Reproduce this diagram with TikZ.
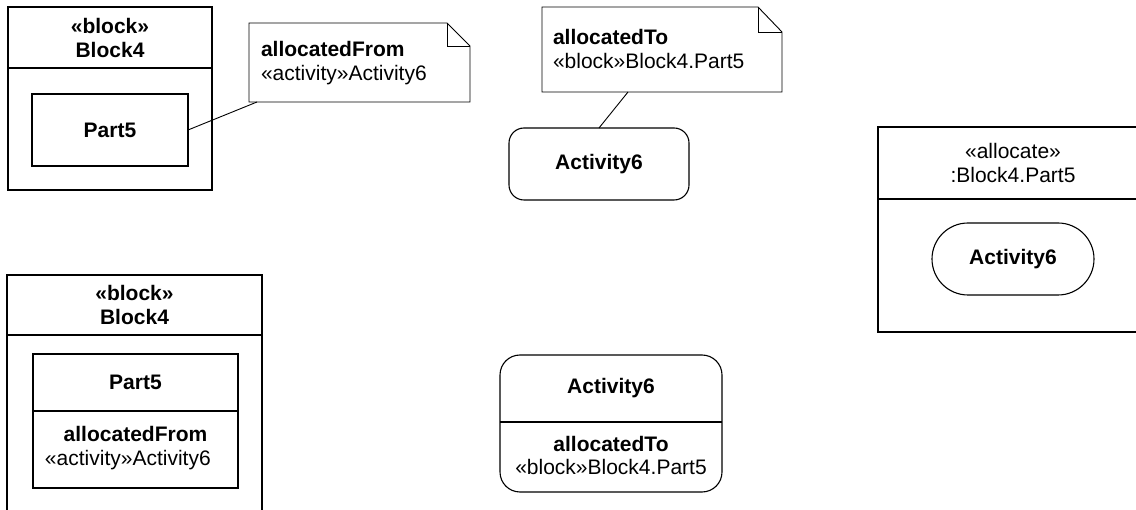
\documentclass[tikz,border=0pt]{standalone}
\usepackage{fontspec}
\setmainfont{Liberation Sans}
\usetikzlibrary{shapes.misc}
\tikzset{
  basetxt/.style={inner sep=0pt, outer sep=0pt, font=\fontsize{21}{24}\selectfont, align=center},
  boldtxt/.style={basetxt, font=\fontsize{21}{24}\selectfont\bfseries},
  frame/.style={draw, line width=1.1pt, inner sep=0pt, outer sep=0pt, rectangle},
  plainline/.style={line width=1.1pt},
  thinline/.style={line width=0.9pt},
  spacer/.style={inner sep=0pt, outer sep=0pt, rectangle},
}
\begin{document}
\begin{tikzpicture}[x=1pt,y=-1pt]
\useasboundingbox (0,0) rectangle (1136,510);
\clip (0,0) rectangle (1136,510);
\fill[white] (0,0) rectangle (1136,510);

% ---------- top-left block with part ----------
\node[frame, minimum width=204pt, minimum height=183pt, anchor=north west] (blkA) at (8,7) {};
\draw[plainline] (8,68) -- (212,68);
\node[boldtxt] (blkAh) at (110,37.5) {«block»\\Block4};
\node[frame, boldtxt, draw, line width=1.1pt, minimum width=156pt, minimum height=72pt] (partA) at (110,130) {Part5};

% ---------- note allocatedFrom ----------
\node[spacer, minimum width=221pt, minimum height=79pt, anchor=north west] (noteA) at (249,23) {};
\draw[thinline] (noteA.north west) -- ([xshift=-23pt]noteA.north east) -- ([yshift=-23pt]noteA.north east) -- (noteA.south east) -- (noteA.south west) -- cycle;
\draw[thinline] ([xshift=-23pt]noteA.north east) -- ([xshift=-23pt,yshift=-23pt]noteA.north east) -- ([yshift=-23pt]noteA.north east);
\node[basetxt, align=left, anchor=west] (noteAt) at (261,63) {\textbf{allocatedFrom}\\«activity»Activity6};
\draw[thinline] (partA.east) -- ([xshift=8pt]noteA.south west);

% ---------- note allocatedTo ----------
\node[spacer, minimum width=240pt, minimum height=85pt, anchor=north west] (noteB) at (542,7) {};
\draw[thinline] (noteB.north west) -- ([xshift=-24pt]noteB.north east) -- ([yshift=-25pt]noteB.north east) -- (noteB.south east) -- (noteB.south west) -- cycle;
\draw[thinline] ([xshift=-24pt]noteB.north east) -- ([xshift=-24pt,yshift=-25pt]noteB.north east) -- ([yshift=-25pt]noteB.north east);
\node[basetxt, align=left, anchor=west] (noteBt) at (553,49) {\textbf{allocatedTo}\\«block»Block4.Part5};

% ---------- Activity6 (top middle) ----------
\node[frame, boldtxt, draw, line width=1.1pt, rounded corners=15pt, minimum width=180pt, minimum height=72pt] (actA) at (599,164) {Activity6};
\draw[thinline] ([xshift=86pt]noteB.south west) -- (actA.north);

% ---------- allocate partition ----------
\node[frame, minimum width=270pt, minimum height=205pt, anchor=north west] (alloc) at (878,127) {};
\draw[plainline] (878,199) -- (1148,199);
\node[basetxt] (alloch) at (1013,163) {«allocate»\\:Block4.Part5};
\node[boldtxt, draw, line width=1.1pt, rounded rectangle, minimum width=162pt, minimum height=72pt] (actB) at (1013,259) {Activity6};

% ---------- lower-left block with compartment ----------
\node[frame, minimum width=255pt, minimum height=260pt, anchor=north west] (blkB) at (7,275) {};
\draw[plainline] (7,335) -- (262,335);
\node[boldtxt] (blkBh) at (134.5,305) {«block»\\Block4};
\node[frame, minimum width=205pt, minimum height=134pt, anchor=north west] (partB) at (33,354) {};
\draw[plainline] (33,411) -- (238,411);
\node[boldtxt] (partBn) at (135.5,382.5) {Part5};
\node[boldtxt, anchor=base] (partBa) at (135.5,442) {allocatedFrom};
\node[basetxt, anchor=base west] (partBb) at (45,466) {«activity»Activity6};

% ---------- lower-middle activity with compartment ----------
\node[frame, rounded corners=20pt, minimum width=222pt, minimum height=137pt, anchor=north west] (actC) at (500,355) {};
\draw[plainline] (500,422) -- (722,422);
\node[boldtxt] (actCn) at (611,388.5) {Activity6};
\node[boldtxt, anchor=base] (actCa) at (611,452) {allocatedTo};
\node[basetxt, anchor=base] (actCb) at (611,475) {«block»Block4.Part5};
\end{tikzpicture}
\end{document}
